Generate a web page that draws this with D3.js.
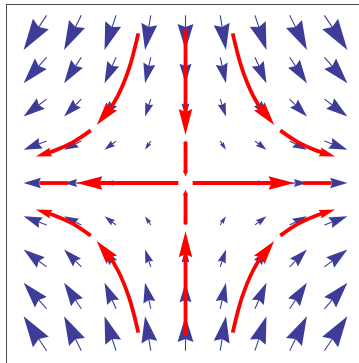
<!DOCTYPE html>
<html>
<head>
<meta charset="utf-8">
<script src="https://cdn.jsdelivr.net/npm/d3@7"></script>
<style>
  html, body { margin: 0; padding: 0; background: #ffffff; }
  svg { display: block; }
</style>
</head>
<body>
<script>
// ---- data ----
const gridX = [-4, -3, -2, -1, 0, 1, 2, 3, 4];          // arrow columns
const gridY = [4, 3, 2, 1, 0, -1, -2, -3, -4];          // arrow rows (top to bottom)
const fieldU = [-4, -3, -2, -1, 0, 1, 2, 3, 4];         // horizontal component per column
const fieldV = [-6, -4.5, -3, -1.5, 0, 1.5, 3, 4.5, 6]; // vertical component per row

// stream segments (top-left quadrant curve)
const curveSeg1 = [[-1.255, 3.98], [-1.5, 3.05], [-1.8, 2.32], [-2.1, 1.84], [-2.36, 1.54]];
const curveSeg2 = [[-2.52, 1.40], [-3.0, 1.08], [-3.5, 0.855], [-3.98, 0.705]];
const quadrantSigns = [[1, 1], [-1, 1], [1, -1], [-1, -1]];

// straight stream segments along the axes: [start, end] distances from the saddle
const vertSeg1 = [4.07, 1.28];
const vertSeg2 = [1.10, 0.17];
const horizSeg1 = [0.19, 2.90];
const horizSeg2 = [3.12, 3.88];

// ---- drawing ----
const W = 359, H = 363;
const svg = d3.select("body").append("svg").attr("width", W).attr("height", H);

const x = d3.scaleLinear().domain([-4.774, 4.774]).range([6, 365]);
const y = d3.scaleLinear().domain([-4.8, 4.753]).range([363.5, 4.3]);

const maxMag = d3.max(fieldU, u => d3.max(fieldV, v => Math.hypot(u, v)));
const len = d3.scaleLinear().domain([0, maxMag]).range([0, 41.5]);

// frame
svg.append("rect")
  .attr("x", Math.round(x.range()[0]) + 0.5)
  .attr("y", Math.round(y.range()[1]) + 0.5)
  .attr("width", 360).attr("height", 360)
  .attr("fill", "none").attr("stroke", "#4d4d4d").attr("stroke-width", 1);

// vector arrows
const blue = "#3d3d99";
const gArrows = svg.append("g");
gridX.forEach((gx, i) => {
  gridY.forEach((gy, j) => {
    const u = fieldU[i], v = fieldV[j];
    const m = Math.hypot(u, v);
    if (m === 0) return;
    const cx = x(gx), cy = y(gy);
    const dx = u / m, dy = -v / m;
    const L = len(m);
    const tail = [cx - dx * L / 2, cy - dy * L / 2];
    const tip = [cx + dx * L / 2, cy + dy * L / 2];
    const hl = 0.75 * L, hw = 0.23 * L;
    const base = [tip[0] - dx * hl, tip[1] - dy * hl];
    const notch = [base[0] + dx * hl * 0.12, base[1] + dy * hl * 0.12];
    const px = -dy, py = dx;
    const w1 = [base[0] + px * hw, base[1] + py * hw];
    const w2 = [base[0] - px * hw, base[1] - py * hw];
    gArrows.append("line")
      .attr("x1", tail[0]).attr("y1", tail[1])
      .attr("x2", notch[0]).attr("y2", notch[1])
      .attr("stroke", blue).attr("stroke-width", 1.1);
    gArrows.append("path")
      .attr("d", `M${tip}L${w1}L${notch}L${w2}Z`)
      .attr("fill", blue);
  });
});

// stream lines
const red = "#ff0000";
const gStream = svg.append("g");
const lineGen = d3.line().x(d => x(d[0])).y(d => y(d[1])).curve(d3.curveCatmullRom);

function streamSegment(points, headLen, headW) {
  const path = gStream.append("path")
    .attr("d", lineGen(points))
    .attr("fill", "none").attr("stroke", red)
    .attr("stroke-width", 3.8).attr("stroke-linecap", "butt");
  if (!headLen) return;
  const node = path.node();
  const total = node.getTotalLength();
  const cut = headLen * 0.6;
  path.attr("stroke-dasharray", `${total - cut} ${total + 20}`);
  const tipP = node.getPointAtLength(total);
  const backP = node.getPointAtLength(Math.max(0, total - headLen));
  let dx = tipP.x - backP.x, dy = tipP.y - backP.y;
  const d = Math.hypot(dx, dy); dx /= d; dy /= d;
  const base = [tipP.x - dx * headLen, tipP.y - dy * headLen];
  const notch = [base[0] + dx * headLen * 0.12, base[1] + dy * headLen * 0.12];
  const px = -dy, py = dx, hw = headW / 2;
  gStream.append("path")
    .attr("d", `M${tipP.x},${tipP.y}L${base[0] + px * hw},${base[1] + py * hw}L${notch}L${base[0] - px * hw},${base[1] - py * hw}Z`)
    .attr("fill", red);
}

// vertical (inflowing) stream lines
[1, -1].forEach(s => {
  streamSegment([[0, s * vertSeg1[0]], [0, s * vertSeg1[1]]], 26, 13.5);
  streamSegment([[0, s * vertSeg2[0]], [0, s * vertSeg2[1]]], 6, 5);
});
// horizontal (outflowing) stream lines
[1, -1].forEach(s => {
  streamSegment([[s * horizSeg1[0], 0], [s * horizSeg1[1], 0]], 26, 13.5);
  streamSegment([[s * horizSeg2[0], 0], [s * horizSeg2[1], 0]], 0, 0);
});
// hyperbolic stream lines in the four quadrants
quadrantSigns.forEach(([sx, sy]) => {
  streamSegment(curveSeg1.map(p => [p[0] * sx, p[1] * sy]), 24, 13.5);
  streamSegment(curveSeg2.map(p => [p[0] * sx, p[1] * sy]), 16, 9);
});
</script>
</body>
</html>
